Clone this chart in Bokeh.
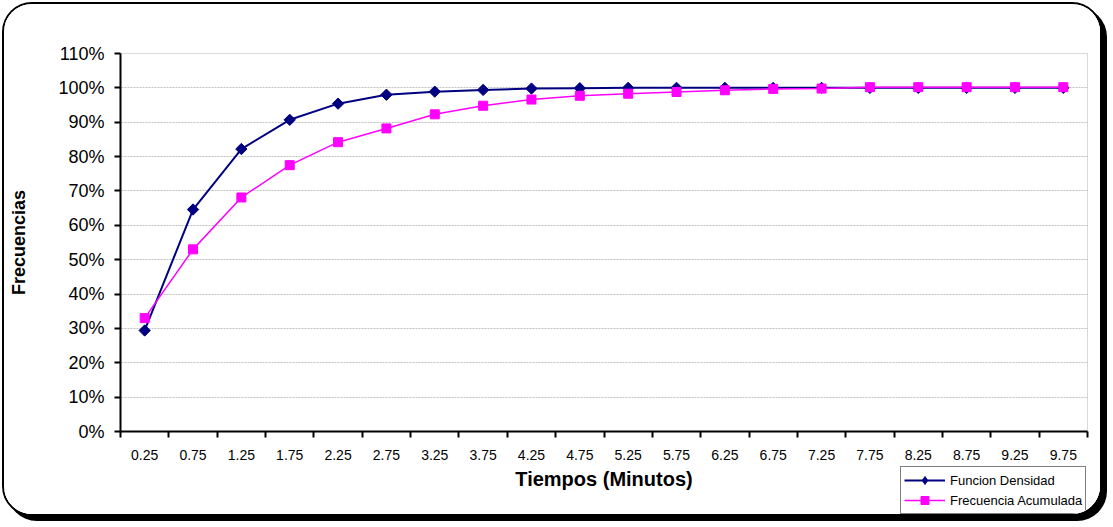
import math
from bokeh.plotting import figure
from bokeh.models import (FixedTicker, NumeralTickFormatter, Range1d, Legend, LegendItem,
                          BoxAnnotation, Label)
from bokeh.embed import file_html
from bokeh.resources import INLINE

tiempos = ["0.25", "0.75", "1.25", "1.75", "2.25", "2.75", "3.25", "3.75", "4.25", "4.75",
           "5.25", "5.75", "6.25", "6.75", "7.25", "7.75", "8.25", "8.75", "9.25", "9.75"]
funcion_densidad = [0.294, 0.646, 0.822, 0.907, 0.954, 0.980, 0.989, 0.994, 0.998, 0.999,
                    1.0, 1.0, 1.0, 1.0, 1.0, 1.0, 1.0, 1.0, 1.0, 1.0]
frecuencia_acumulada = [0.330, 0.530, 0.681, 0.775, 0.842, 0.882, 0.923, 0.948, 0.966, 0.977,
                        0.983, 0.988, 0.993, 0.997, 0.998, 1.002, 1.002, 1.002, 1.002, 1.002]
y_ticks = [0.0, 0.1, 0.2, 0.3, 0.4, 0.5, 0.6, 0.7, 0.8, 0.9, 1.0, 1.1]

FONT = "Liberation Sans"
n = len(tiempos)
xs = [i + 0.5 for i in range(n)]
y_top = y_ticks[-1]

# ---- layout in canvas pixels ----
W, H = 1100, 514
PT = 49                   # visible plot area top (y = 110%)
PL, PR = 116, 1083        # visible plot area left / right
PB = 427                  # visible plot area bottom (y = 0)
px_x = (PR - PL) / n
px_y = (PB - PT) / y_top
x_start = -PL / px_x
x_end = n + (W - PR) / px_x
y_start = -(H - PB) / px_y
y_end = y_top + PT / px_y
YTITLE_PX = 14            # centre of y title (canvas x)
XTITLE_PX = 474           # centre of x title (canvas y)

p = figure(width=W, height=H, output_backend="svg", toolbar_location=None,
           x_range=Range1d(x_start, x_end), y_range=Range1d(y_start, y_end),
           min_border_left=0, min_border_top=0, min_border_right=0, min_border_bottom=0)
p.styles = {"border": "2px solid black", "border-radius": "30px",
            "box-shadow": "5px 5px 0 0 black", "overflow": "hidden",
            "margin-left": "2px", "margin-top": "2px", "background": "white"}
p.background_fill_color = "white"
p.border_fill_color = "white"
p.outline_line_color = None

# x axis drawn at y = 0
p.xaxis.fixed_location = 0
p.xaxis.bounds = (0, n)
p.xaxis.ticker = FixedTicker(ticks=xs, minor_ticks=list(range(n + 1)))
p.xaxis.major_label_overrides = {x: t for x, t in zip(xs, tiempos)}
p.xaxis.major_tick_out = 0
p.xaxis.major_tick_in = 0
p.xaxis.minor_tick_out = 6
p.xaxis.minor_tick_in = 0
p.xaxis.minor_tick_line_color = "black"
p.xaxis.minor_tick_line_width = 2
p.xaxis.axis_line_width = 2
p.xaxis.axis_line_color = "black"
p.xaxis.major_label_text_font = FONT
p.xaxis.major_label_text_font_size = "14px"
p.xaxis.major_label_text_color = "black"
p.xaxis.major_label_standoff = 12

# y axis drawn at x = 0
p.yaxis.fixed_location = 0
p.yaxis.bounds = (0, y_top)
p.yaxis.ticker = FixedTicker(ticks=y_ticks, minor_ticks=[])
p.yaxis.formatter = NumeralTickFormatter(format="0%")
p.yaxis.major_tick_out = 6
p.yaxis.major_tick_in = 0
p.yaxis.major_tick_line_width = 2
p.yaxis.major_tick_line_color = "black"
p.yaxis.axis_line_width = 2
p.yaxis.axis_line_color = "black"
p.yaxis.major_label_text_font = FONT
p.yaxis.major_label_text_font_size = "18px"
p.yaxis.major_label_text_color = "black"
p.yaxis.major_label_standoff = 10

p.xgrid.visible = False
p.ygrid.ticker = FixedTicker(ticks=y_ticks[1:-1])
p.ygrid.grid_line_color = "#c0c0c0"
p.ygrid.grid_line_width = 1
p.ygrid.grid_line_dash = "2 1"

# keep the grid inside the plot area, then draw its outline
p.add_layout(BoxAnnotation(left=n, fill_color="white", fill_alpha=1, line_color=None,
                           level="underlay"))
p.add_layout(BoxAnnotation(right=0, fill_color="white", fill_alpha=1, line_color=None,
                           level="underlay"))
p.add_layout(BoxAnnotation(left=0, right=n, bottom=0, top=y_top, fill_alpha=0,
                           line_color="#808080", line_width=1, level="underlay"))

# axis titles
p.add_layout(Label(x=x_start + YTITLE_PX / px_x, y=y_top / 2, text="Frecuencias",
                   angle=math.pi / 2, text_align="center", text_baseline="middle",
                   text_font=FONT, text_font_style="bold", text_font_size="18px",
                   text_color="black"))
p.add_layout(Label(x=n / 2, y=-(XTITLE_PX - PB) / px_y, text="Tiempos (Minutos)",
                   text_align="center", text_baseline="middle",
                   text_font=FONT, text_font_style="bold", text_font_size="20px",
                   text_color="black"))

l1 = p.line(xs, funcion_densidad, line_color="#000080", line_width=2)
s1 = p.scatter(xs, funcion_densidad, marker="square", angle=math.pi / 4, size=8,
               fill_color="#000080", line_color="#000080")
l2 = p.line(xs, frecuencia_acumulada, line_color="#FF00FF", line_width=1.5)
s2 = p.scatter(xs, frecuencia_acumulada, marker="square", size=9, fill_color="#FF00FF",
               line_color="#FF00FF")
# legend key marker (hidden in the plot)
s1_key = p.scatter(xs, funcion_densidad, marker="diamond", size=11, fill_color="#000080",
                   line_color="#000080", visible=False)

legend = Legend(items=[LegendItem(label="Funcion Densidad", renderers=[l1, s1_key]),
                       LegendItem(label="Frecuencia Acumulada", renderers=[l2, s2])],
                location=(896, 4), orientation="vertical")
legend.label_text_font = FONT
legend.label_text_font_size = "13px"
legend.label_text_color = "black"
legend.glyph_width = 41
legend.glyph_height = 20
legend.label_height = 20
legend.label_standoff = 5
legend.padding = 3
legend.spacing = 0
legend.margin = 0
legend.inactive_fill_alpha = 0
legend.border_line_color = "black"
legend.border_line_width = 1
legend.background_fill_color = "white"
legend.background_fill_alpha = 1
p.add_layout(legend, "center")

open("out.html", "w").write(file_html(p, INLINE))
